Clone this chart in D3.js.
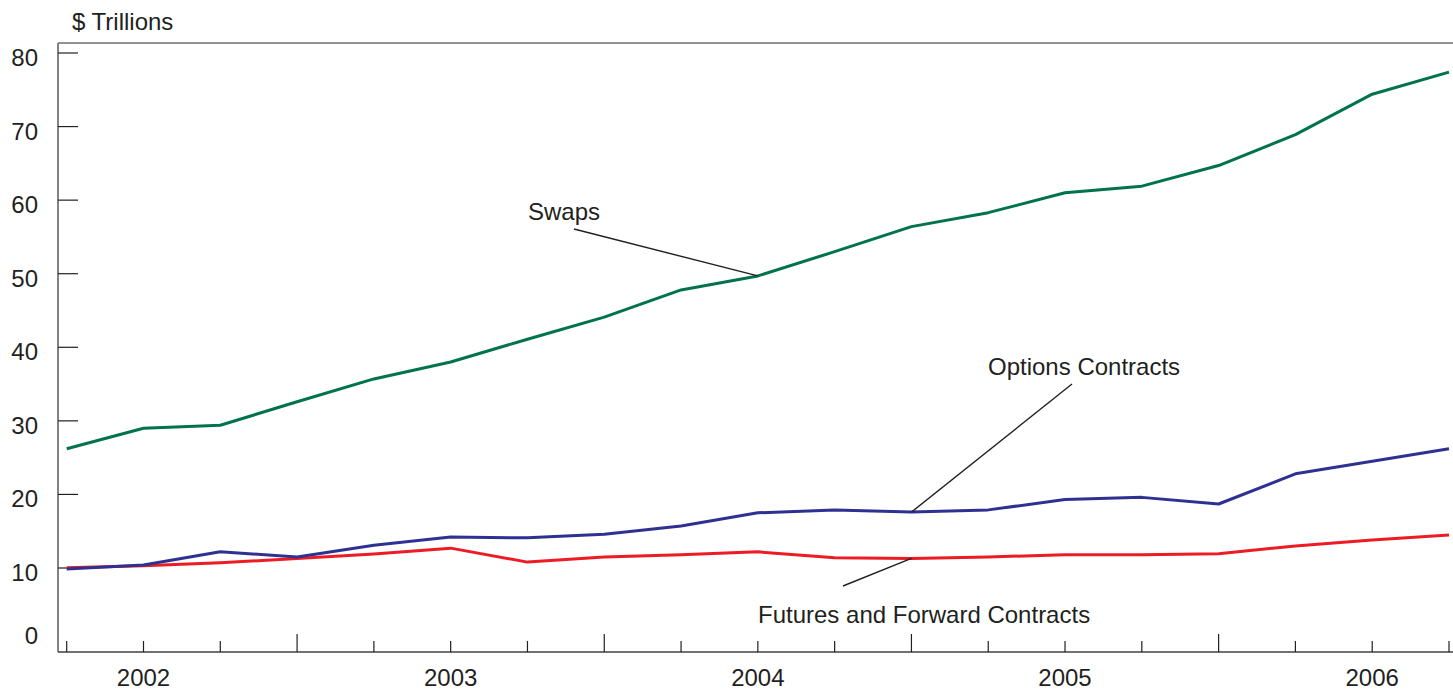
<!DOCTYPE html>
<html>
<head>
<meta charset="utf-8">
<script src="https://cdn.jsdelivr.net/npm/d3@7"></script>
<style>
  html, body { margin: 0; padding: 0; background: #fff; }
  svg { display: block; }
  text { font-family: "Liberation Sans", Arial, sans-serif; fill: #231f20; }
</style>
</head>
<body>
<svg id="chart" width="1453" height="691"></svg>
<script>
// Quarterly observations, 2002 Q1 .. 2006 Q3 ($ trillions)
const quarters = ["2002Q1","2002Q2","2002Q3","2002Q4","2003Q1","2003Q2","2003Q3","2003Q4",
  "2004Q1","2004Q2","2004Q3","2004Q4","2005Q1","2005Q2","2005Q3","2005Q4","2006Q1","2006Q2","2006Q3"];
const swaps   = [26.2, 29.0, 29.4, 32.6, 35.7, 38.0, 41.1, 44.1, 47.8, 49.7, 53.0, 56.4, 58.3, 61.0, 61.9, 64.7, 68.9, 74.4, 77.4];
const options = [9.87, 10.4, 12.2, 11.5, 13.1, 14.2, 14.1, 14.6, 15.7, 17.5, 17.9, 17.6, 17.9, 19.3, 19.6, 18.7, 22.8, 24.5, 26.2];
const futures = [10.05, 10.3, 10.7, 11.3, 11.9, 12.7, 10.8, 11.5, 11.8, 12.2, 11.4, 11.3, 11.5, 11.8, 11.8, 11.95, 13.0, 13.8, 14.5];
const yTicks = [10, 20, 30, 40, 50, 60, 70, 80];
const yLabels = [0, 10, 20, 30, 40, 50, 60, 70, 80];
const yearLabels = ["2002", "2003", "2004", "2005", "2006"];
const yearLabelIdx = [1, 5, 9, 13, 17];
const yearBoundaryIdx = [3, 7, 11, 15];

const svg = d3.select("#chart");
const pLeft = 58, pRight = 1453, pTop = 43, pBottom = 652;
const fs = 24;

const x = d3.scaleLinear().domain([0, quarters.length - 1]).range([66.7, 1449]);
const y = d3.scaleLinear().domain([10, 80]).range([568, 53]);

// frame
svg.append("line").attr("x1", pLeft).attr("x2", pRight).attr("y1", pTop).attr("y2", pTop)
  .attr("stroke", "#6d6e71").attr("stroke-width", 1.5);
svg.append("line").attr("x1", pLeft).attr("x2", pLeft).attr("y1", pTop).attr("y2", pBottom)
  .attr("stroke", "#808285").attr("stroke-width", 2);
svg.append("line").attr("x1", pLeft).attr("x2", pRight).attr("y1", pBottom).attr("y2", pBottom)
  .attr("stroke", "#414042").attr("stroke-width", 1.5);

// y ticks (inside)
svg.selectAll(".ytick").data(yTicks).join("line")
  .attr("x1", pLeft).attr("x2", pLeft + 20)
  .attr("y1", d => y(d)).attr("y2", d => y(d))
  .attr("stroke", "#231f20").attr("stroke-width", 1.2);
svg.selectAll(".ylab").data(yLabels).join("text")
  .attr("x", 38)
  .attr("y", d => d === 0 ? y(0) + 2 : y(d) + 13)
  .attr("text-anchor", "end")
  .attr("font-size", fs)
  .text(d => d);

svg.append("text").attr("x", 72).attr("y", 30).attr("font-size", fs).text("$ Trillions");

// x ticks (inside, upward)
svg.selectAll(".xtick").data(quarters.map((q, i) => i)).join("line")
  .attr("x1", d => x(d)).attr("x2", d => x(d))
  .attr("y1", pBottom).attr("y2", d => yearBoundaryIdx.includes(d) ? pBottom - 18 : pBottom - 11)
  .attr("stroke", "#231f20").attr("stroke-width", 1.2);
svg.selectAll(".xlab").data(yearLabels).join("text")
  .attr("x", (d, i) => x(yearLabelIdx[i]))
  .attr("y", 686)
  .attr("text-anchor", "middle").attr("font-size", fs)
  .text(d => d);

// series
const line = d3.line().x((d, i) => x(i)).y(d => y(d));
const series = [
  { vals: futures, color: "#ed1c24" },
  { vals: options, color: "#2e3192" },
  { vals: swaps,   color: "#00734a" }
];
series.forEach(s => {
  svg.append("path").datum(s.vals).attr("d", line)
    .attr("fill", "none").attr("stroke", s.color).attr("stroke-width", 3)
    .attr("stroke-linejoin", "round");
});

// annotations
function leader(x1, y1, x2, y2) {
  svg.append("line").attr("x1", x1).attr("y1", y1).attr("x2", x2).attr("y2", y2)
    .attr("stroke", "#231f20").attr("stroke-width", 1.4);
}
svg.append("text").attr("x", 528).attr("y", 220).attr("font-size", fs).text("Swaps");
leader(574, 229, x(9), y(swaps[9]));
svg.append("text").attr("x", 988).attr("y", 375).attr("font-size", fs).text("Options Contracts");
leader(1072, 384, x(11), y(options[11]));
svg.append("text").attr("x", 758).attr("y", 623).attr("font-size", fs).text("Futures and Forward Contracts");
leader(843, 586, x(11), y(futures[11]));
</script>
</body>
</html>
